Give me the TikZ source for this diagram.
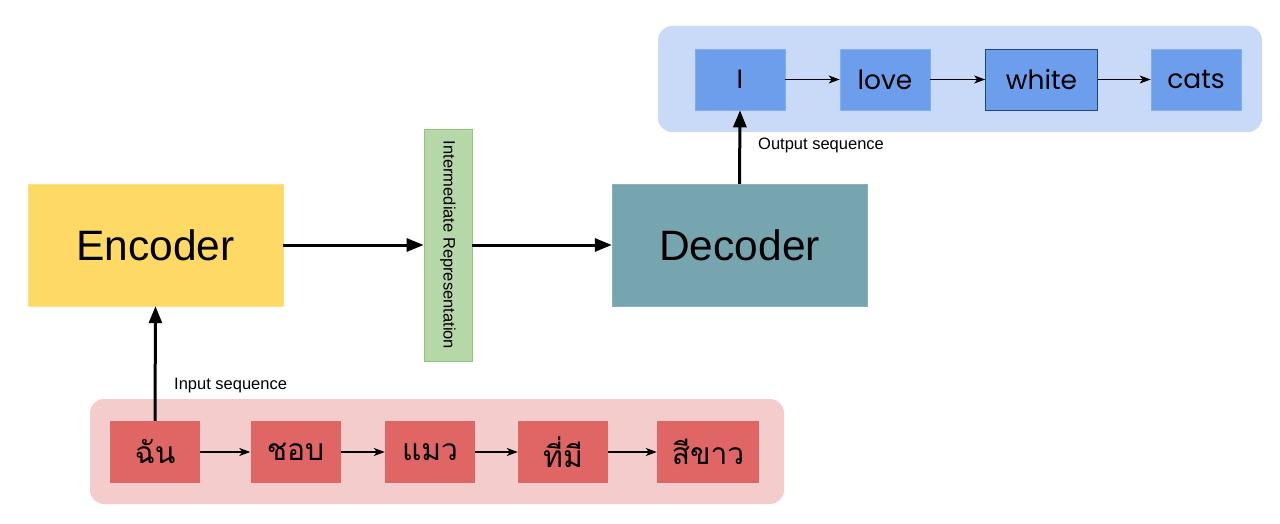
\documentclass[tikz,border=0pt]{standalone}
\usepackage{fontspec}
\setmainfont{Liberation Sans}
\newfontfamily\thaifont[Script=Thai]{Loma}
\newfontfamily\wordfont{Poppins}
\usetikzlibrary{arrows.meta,positioning}
\definecolor{encY}{HTML}{FFD966}
\definecolor{decT}{HTML}{76A5AF}
\definecolor{intG}{HTML}{B6D7A8}
\definecolor{intGb}{HTML}{93C47D}
\definecolor{redB}{HTML}{E06666}
\definecolor{pinkBg}{HTML}{F4CCCC}
\definecolor{blueB}{HTML}{6D9EEB}
\definecolor{blueBg}{HTML}{C9DAF8}
\definecolor{blueBd}{HTML}{1C4587}
\tikzset{
  bigbox/.style={rectangle, minimum width=255pt, minimum height=122pt, inner sep=0pt, font=\fontsize{42.5}{46}\selectfont},
  interm/.style={rectangle, fill=intG, draw=intGb, line width=0.8pt, minimum width=232pt, minimum height=48pt, inner sep=0pt, font=\fontsize{16.5}{18}\selectfont},
  redbox/.style={rectangle, fill=redB, minimum height=62pt, minimum width=90pt, inner sep=0pt, font=\thaifont\fontsize{30}{34}\selectfont},
  bluebox/.style={rectangle, fill=blueB, draw=blueB!85!white, line width=0.6pt, minimum height=61pt, minimum width=90pt, inner sep=0pt, font=\wordfont\fontsize{26.5}{30}\selectfont},
  panel/.style={rectangle, rounded corners=14pt, inner sep=0pt},
  thickarrow/.style={line width=3pt, -{Triangle[length=17pt,width=13pt]}},
  thinarrow/.style={line width=1.4pt, -{Stealth[length=11pt,width=8pt,inset=3pt]}},
  lbl/.style={font=\fontsize{16.5}{18}\selectfont, inner sep=0pt, anchor=west},
}
\begin{document}
\begin{tikzpicture}[x=1pt,y=-1pt]
\useasboundingbox[fill=white] (0,0) rectangle (1280,524);
% panels
\node[panel, fill=pinkBg, minimum width=694pt, minimum height=105pt] (inpanel) at (437,451.5) {};
\node[panel, fill=blueBg, minimum width=604pt, minimum height=106pt] (outpanel) at (960,79) {};
% main blocks
\node[bigbox, fill=encY, draw=encY!80!white] (enc) at (155.5,245) {Encoder};
\node[bigbox, fill=decT, draw=decT!85!white] (dec) at (739.5,245) {Decoder};
\node[interm, rotate=-90] (inter) at (448,245) {Intermediate Representation};
% input words
\node[redbox] (w1) at (155,452) {ฉัน};
\node[redbox] (w2) at (295.5,452) {ชอบ};
\node[redbox] (w3) at (430,452) {แมว};
\node[redbox] (w4) at (563,452) {ที่มี};
\node[redbox, minimum width=102pt] (w5) at (708,452) {สีขาว};
% output words
\node[bluebox] (o1) at (740,79.5) {\raisebox{-1.5pt}{I}};
\node[bluebox] (o2) at (885,79.5) {\raisebox{-1.5pt}{love}};
\node[bluebox, draw=blueBd, minimum width=112pt] (o3) at (1041.5,79.5) {\raisebox{-1.5pt}{white}};
\node[bluebox] (o4) at (1196,79.5) {\raisebox{-1.5pt}{cats}};
% connectors
\draw[thinarrow] (w1) -- (w2);
\draw[thinarrow] (w2) -- (w3);
\draw[thinarrow] (w3) -- (w4);
\draw[thinarrow] (w4) -- (w5);
\draw[thinarrow] (o1) -- (o2);
\draw[thinarrow] (o2) -- (o3);
\draw[thinarrow] (o3) -- (o4);
\draw[thickarrow] (w1.north) -- (enc.south);
\draw[thickarrow] (enc.east) -- (inter.south);
\draw[thickarrow] (inter.north) -- (dec.west);
\draw[thickarrow] (dec.north) -- (o1.south);
% labels
\node[lbl] (inlbl) at (174,386) {Input sequence};
\node[lbl] (outlbl) at (758,145) {Output sequence};
\end{tikzpicture}
\end{document}
